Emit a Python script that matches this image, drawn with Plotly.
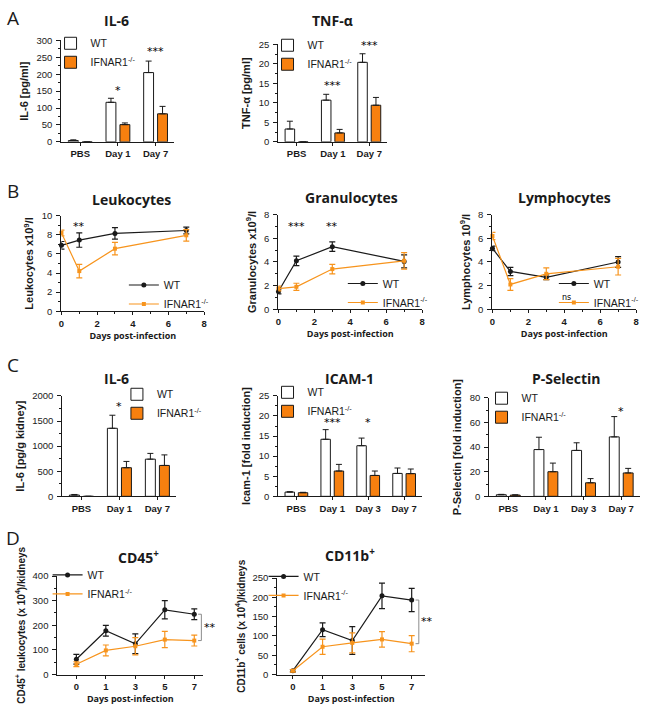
import plotly.graph_objects as go

W, H = 648, 714
AX = "#1a1a1a"
KO_BAR = "#f7800f"
KO_LINE = "#f7941d"
GREY = "#8c8c8c"

# ---------------- data ----------------
# Panel A (serum)
a_cats = ["PBS", "Day 1", "Day 7"]
a_il6_wt = [4, 117, 205]
a_il6_wt_err = [2, 12, 34]
a_il6_ko = [0, 51, 83]
a_il6_ko_err = [0, 5, 22]
a_tnf_wt = [3.3, 10.7, 20.4]
a_tnf_wt_err = [2.0, 1.5, 2.2]
a_tnf_ko = [0, 2.3, 9.4]
a_tnf_ko_err = [0, 0.9, 2.0]

# Panel B (blood counts)
b_days = [0, 1, 3, 7]
b_leuk_wt = [6.9, 7.45, 8.15, 8.45]
b_leuk_wt_err = [0.4, 0.75, 0.6, 0.35]
b_leuk_ko = [8.2, 4.2, 6.55, 7.95]
b_leuk_ko_err = [0.3, 0.7, 0.65, 0.6]
b_gran_wt = [1.5, 4.1, 5.3, 4.05]
b_gran_wt_err = [0.2, 0.4, 0.4, 0.55]
b_gran_ko = [1.75, 1.9, 3.4, 4.1]
b_gran_ko_err = [0.2, 0.3, 0.4, 0.7]
b_lym_wt = [5.15, 3.2, 2.7, 4.0]
b_lym_wt_err = [0.2, 0.35, 0.2, 0.45]
b_lym_ko = [6.2, 2.1, 3.0, 3.6]
b_lym_ko_err = [0.3, 0.5, 0.5, 0.7]

# Panel C (kidney)
c_il6_cats = ["PBS", "Day 1", "Day 7"]
c_il6_wt = [25, 1355, 740]
c_il6_wt_err = [12, 260, 115]
c_il6_ko = [0, 570, 615]
c_il6_ko_err = [0, 125, 210]
c4_cats = ["PBS", "Day 1", "Day 3", "Day 7"]
c_icam_wt = [1.05, 14.2, 12.6, 5.7]
c_icam_wt_err = [0.1, 2.4, 1.9, 1.35]
c_icam_ko = [0.9, 6.3, 5.2, 5.65]
c_icam_ko_err = [0.1, 1.65, 1.1, 1.15]
c_psel_wt = [1.3, 38, 37.3, 48.3]
c_psel_wt_err = [0.3, 10, 6.2, 16.5]
c_psel_ko = [1.0, 20, 11, 19]
c_psel_ko_err = [0.2, 7, 3.4, 3.7]

# Panel D (kidney infiltrates)
d_days = ["0", "1", "3", "5", "7"]
d_cd45_wt = [62, 178, 125, 263, 245]
d_cd45_wt_err = [20, 22, 40, 37, 22]
d_cd45_ko = [42, 98, 115, 142, 138]
d_cd45_ko_err = [10, 22, 35, 33, 22]
d_cd11b_wt = [10, 116, 88, 204, 193]
d_cd11b_wt_err = [3, 18, 36, 33, 30]
d_cd11b_ko = [10, 72, 82, 91, 80]
d_cd11b_ko_err = [3, 20, 26, 20, 21]

KO_NAME = "IFNAR1<sup>-/-</sup>"

# ---------------- helpers ----------------
def xd(a, b):
    return [a / W, b / W]

def yd(top, bottom):
    return [1 - bottom / H, 1 - top / H]

def sfx(i):
    return "" if i == 1 else str(i)

def legname(i):
    return "legend" if i == 1 else f"legend{i}"

fig = go.Figure()
layout = {}
annotations = []
shapes = []

TICKFONT = dict(family="Liberation Sans", size=9.5, color=AX)
XTICKFONT = dict(family="Liberation Sans", size=9.5, color=AX, weight="bold")


def add_bars(i, cats, wt, wt_err, ko, ko_err):
    s = sfx(i)
    fig.add_trace(go.Bar(
        x=cats, y=wt, name="WT", legend=legname(i), xaxis="x" + s, yaxis="y" + s,
        marker=dict(color="white", line=dict(color=AX, width=1)),
        error_y=dict(type="data", symmetric=False, array=wt_err,
                     arrayminus=[0] * len(wt), color=AX, thickness=1, width=3)))
    fig.add_trace(go.Bar(
        x=cats, y=ko, name=KO_NAME, legend=legname(i), xaxis="x" + s, yaxis="y" + s,
        marker=dict(color=KO_BAR, line=dict(color=AX, width=1)),
        error_y=dict(type="data", symmetric=False, array=ko_err,
                     arrayminus=[0] * len(ko), color=AX, thickness=1, width=3)))


def add_lines(i, x, wt, wt_err, ko, ko_err):
    s = sfx(i)
    fig.add_trace(go.Scatter(
        x=x, y=wt, name="WT", legend=legname(i), xaxis="x" + s, yaxis="y" + s,
        mode="lines+markers", cliponaxis=False,
        line=dict(color=AX, width=1.2), marker=dict(symbol="circle", size=5, color=AX),
        error_y=dict(type="data", array=wt_err, color=AX, thickness=1.2, width=3)))
    fig.add_trace(go.Scatter(
        x=x, y=ko, name=KO_NAME, legend=legname(i), xaxis="x" + s, yaxis="y" + s,
        mode="lines+markers", cliponaxis=False,
        line=dict(color=KO_LINE, width=1.2), marker=dict(symbol="square", size=4, color=KO_LINE),
        error_y=dict(type="data", array=ko_err, color=KO_LINE, thickness=1.2, width=3)))


def set_axes(i, xpx, ypx, yrange, ydtick, ytitle, xkind, xrange=None, xtitle=None,
             xlabels=None, ytsize=11):
    s = sfx(i)
    ya = dict(domain=yd(*ypx), range=yrange, dtick=ydtick, tick0=0, anchor="x" + s,
              showline=True, linecolor=AX, linewidth=1.3, ticks="outside", ticklen=4,
              tickwidth=1.2, tickcolor=AX, showgrid=False, zeroline=False,
              minor=dict(dtick=ydtick / 2, ticklen=2, tickwidth=1, tickcolor=AX, ticks="outside"),
              tickfont=TICKFONT, ticklabelstandoff=2,
              title=dict(text=ytitle, standoff=5,
                         font=dict(family="Liberation Sans", size=ytsize, color=AX, weight="bold")))
    xa = dict(domain=xd(*xpx), anchor="y" + s, showline=True, linecolor=AX, linewidth=1.3,
              ticks="outside", ticklen=3, tickwidth=1.2, tickcolor=AX, showgrid=False,
              zeroline=False, tickfont=XTICKFONT)
    if xkind == "linear":
        xa.update(range=xrange, dtick=2, tick0=0,
                  minor=dict(dtick=1, ticklen=2, tickwidth=1, tickcolor=AX, ticks="outside"))
    elif xkind == "index":
        xa.update(range=xrange, tickmode="array", tickvals=list(range(len(xlabels))),
                  ticktext=xlabels)
    else:
        xa.update(type="category", range=xrange)
    if xtitle:
        xa["title"] = dict(text=xtitle, standoff=4,
                           font=dict(family="Open Sans", size=9, color=AX, weight="bold"))
    layout["xaxis" + s] = xa
    layout["yaxis" + s] = ya


def set_legend(i, x, ymid):
    layout[legname(i)] = dict(x=x / W, y=1 - ymid / H, xanchor="left", yanchor="middle",
                              bgcolor="rgba(0,0,0,0)", tracegroupgap=0, itemwidth=30,
                              font=dict(family="Liberation Sans", size=10.5, color=AX),
                              itemclick=False, itemdoubleclick=False)


def title(text, x, y):
    annotations.append(dict(text=text, x=x / W, y=1 - y / H, xref="paper", yref="paper",
                            showarrow=False, xanchor="center", yanchor="middle",
                            font=dict(family="Open Sans", size=14, color=AX, weight="bold")))


def letter(text, x, y):
    annotations.append(dict(text=text, x=x / W, y=1 - y / H, xref="paper", yref="paper",
                            showarrow=False, xanchor="center", yanchor="middle",
                            font=dict(family="Open Sans", size=19, color=AX)))


def star(i, text, x, y, size=11, xref=None):
    s = sfx(i)
    annotations.append(dict(text=text, x=x, y=y, xref=xref or ("x" + s), yref="y" + s,
                            showarrow=False, xanchor="center", yanchor="middle",
                            font=dict(family="DejaVu Sans", size=size, color="black")))

# ---------------- Panel A ----------------
add_bars(1, a_cats, a_il6_wt, a_il6_wt_err, a_il6_ko, a_il6_ko_err)
set_axes(1, (59, 173), (35, 138), [0, 300], 50, "IL-6 [pg/ml]", "cat", [-0.5, 2.5])
add_bars(2, a_cats, a_tnf_wt, a_tnf_wt_err, a_tnf_ko, a_tnf_ko_err)
set_axes(2, (278, 388), (39, 138), [0, 25], 5, "TNF-α [pg/ml]", "cat", [-0.5, 2.5])
set_legend(1, 48, 47.5)
set_legend(2, 267, 49.5)
title("IL-6", 115, 15)
title("TNF-α", 333, 15)
letter("A", 10, 12)
star(1, "*", "Day 1", 152)
star(1, "***", "Day 7", 268)
star(2, "***", "Day 1", 14.4)
star(2, "***", "Day 7", 24.8)

# ---------------- Panel B ----------------
add_lines(3, b_days, b_leuk_wt, b_leuk_wt_err, b_leuk_ko, b_leuk_ko_err)
set_axes(3, (59, 203), (213, 310), [0, 10], 2, "Leukocytes x10<sup>9</sup>/l", "linear", [0, 8],
         "Days post-infection")
add_lines(4, b_days, b_gran_wt, b_gran_wt_err, b_gran_ko, b_gran_ko_err)
set_axes(4, (278, 423), (212, 308), [0, 8], 2, "Granulocytes x10<sup>9</sup>/l", "linear", [0, 8],
         "Days post-infection")
add_lines(5, b_days, b_lym_wt, b_lym_wt_err, b_lym_ko, b_lym_ko_err)
set_axes(5, (494, 639), (212, 308), [0, 8], 2, "Lymphocytes 10<sup>9</sup>/l", "linear", [0, 8],
         "Days post-infection")
set_legend(3, 122, 293)
set_legend(4, 343, 291.5)
set_legend(5, 556, 291.5)
title("Leukocytes", 130, 197)
title("Granulocytes", 352, 195)
title("Lymphocytes", 567, 195)
letter("B", 10, 188)
star(3, "**", 1, 8.9)
star(4, "***", 1, 7.0)
star(4, "**", 3, 7.0)
star(5, "ns", 4.1, 1.0, size=8)

# ---------------- Panel C ----------------
add_bars(6, c_il6_cats, c_il6_wt, c_il6_wt_err, c_il6_ko, c_il6_ko_err)
set_axes(6, (60, 175), (396, 498), [0, 2000], 500, "IL-6 [pg/g kidney]", "cat", [-0.5, 2.5])
add_bars(7, c4_cats, c_icam_wt, c_icam_wt_err, c_icam_ko, c_icam_ko_err)
set_axes(7, (278, 423), (396, 498), [0, 25], 5, "Icam-1 [fold induction]", "cat", [-0.5, 3.5])
add_bars(8, c4_cats, c_psel_wt, c_psel_wt_err, c_psel_ko, c_psel_ko_err)
set_axes(8, (491, 643), (398, 498), [0, 80], 20, "P-Selectin [fold induction]", "cat", [-0.5, 3.5])
set_legend(6, 115, 404)
set_legend(7, 267, 402)
set_legend(8, 483, 408)
title("IL-6", 115, 378)
title("ICAM-1", 350, 378)
title("P-Selectin", 569, 378)
letter("C", 10, 365)
star(6, "*", "Day 1", 1790)
star(7, "***", "Day 1", 18.5)
star(7, "*", "Day 3", 18.5)
star(8, "*", "Day 7", 69)

# ---------------- Panel D ----------------
d_idx = list(range(len(d_days)))
D_AXES = {9: ((55, 202), [-0.64, 4.3]), 10: ((277, 426), [-0.52, 4.45])}
add_lines(9, d_idx, d_cd45_wt, d_cd45_wt_err, d_cd45_ko, d_cd45_ko_err)
set_axes(9, D_AXES[9][0], (579, 679), [0, 400], 100,
         "CD45<sup>+</sup> leukocytes (x 10<sup>4</sup>)/kidneys", "index", D_AXES[9][1],
         "Days post-infection", d_days, ytsize=10)
add_lines(10, d_idx, d_cd11b_wt, d_cd11b_wt_err, d_cd11b_ko, d_cd11b_ko_err)
set_axes(10, D_AXES[10][0], (581, 679), [0, 250], 50,
         "CD11b<sup>+</sup> cells (x 10<sup>4</sup>)/kidneys", "index", D_AXES[10][1],
         "Days post-infection", d_days, ytsize=10)
set_legend(9, 45, 587.5)
set_legend(10, 263, 589)
title("CD45<sup>+</sup>", 137, 560)
title("CD11b<sup>+</sup>", 350, 558)
letter("D", 10, 540)

# significance brackets at the last time point (WT vs IFNAR1-/-)
for i, wt, ko in [(9, d_cd45_wt, d_cd45_ko), (10, d_cd11b_wt, d_cd11b_ko)]:
    s = sfx(i)
    last = len(wt) - 1
    xb = last + 0.24
    shapes.append(dict(type="path", xref="x" + s, yref="y" + s,
                       path=f"M {last + 0.13},{wt[last]} L {xb},{wt[last]} L {xb},{ko[last]} L {last + 0.13},{ko[last]}",
                       line=dict(color=GREY, width=1)))
    (px0, px1), (r0, r1) = D_AXES[i]
    star_px = px0 + (last + 0.52 - r0) / (r1 - r0) * (px1 - px0)
    star(i, "**", star_px / W, (wt[last] + ko[last]) / 2, xref="paper")

fig.update_layout(
    width=W, height=H, margin=dict(l=0, r=0, t=0, b=0),
    paper_bgcolor="white", plot_bgcolor="rgba(0,0,0,0)",
    barmode="group", bargap=0.26, bargroupgap=0.29,
    annotations=annotations, shapes=shapes,
    font=dict(family="Liberation Sans", color=AX),
    **layout,
)

fig.write_html("out.html", config={"displayModeBar": False},
               post_script="document.body.style.margin='0px';")
